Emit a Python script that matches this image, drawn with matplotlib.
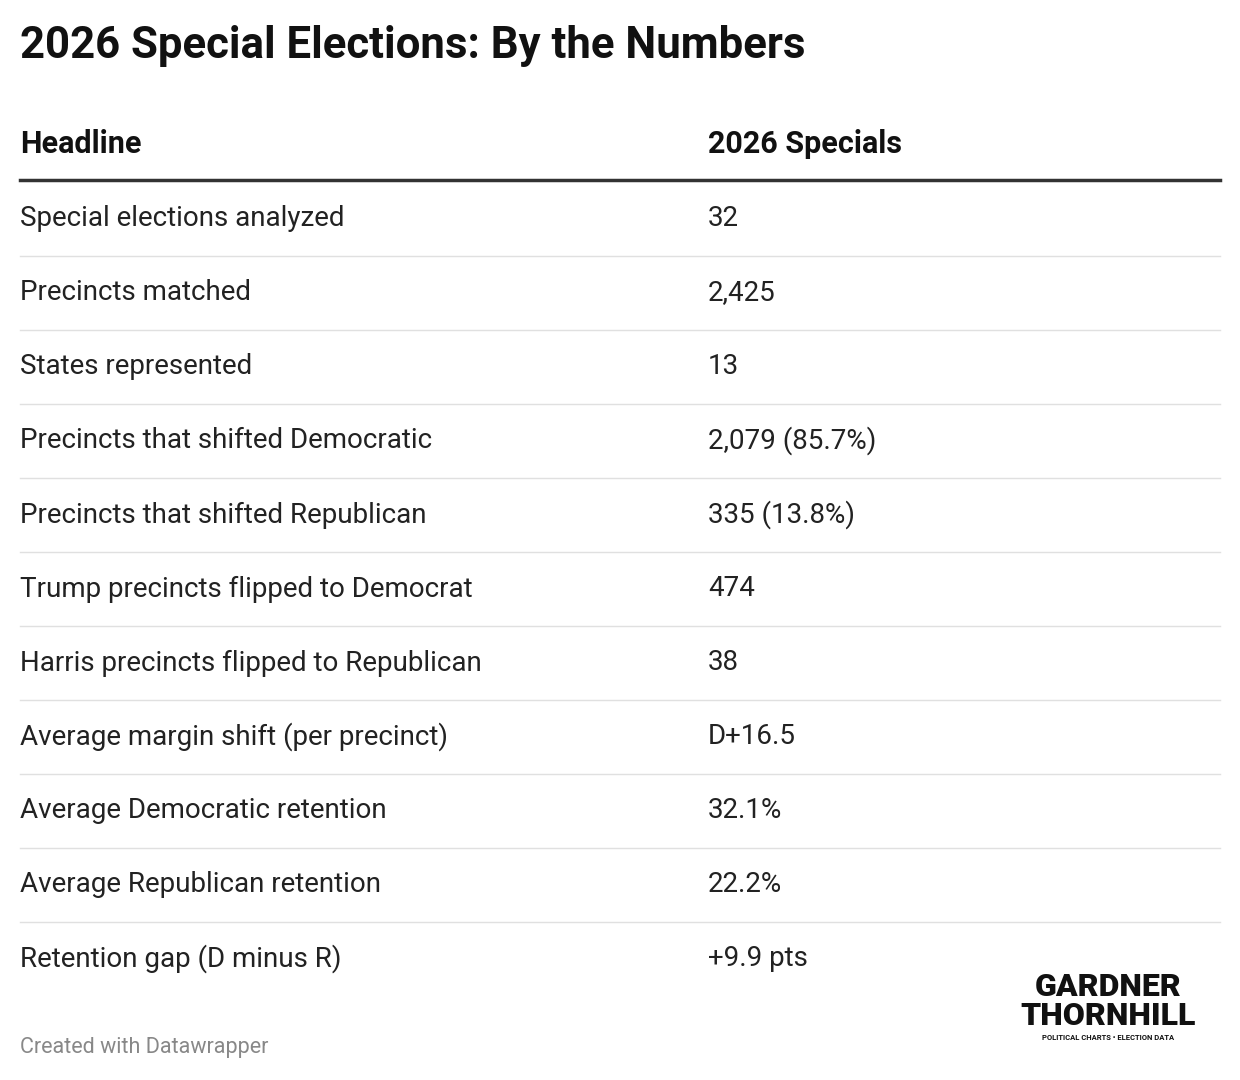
import matplotlib
matplotlib.use('Agg')
import matplotlib.pyplot as plt

TITLE = '2026 Special Elections: By the Numbers'
HEADERS = ['Headline', '2026 Specials']
LABELS = ['Special elections analyzed', 'Precincts matched', 'States represented',
          'Precincts that shifted Democratic', 'Precincts that shifted Republican',
          'Trump precincts flipped to Democrat', 'Harris precincts flipped to Republican',
          'Average margin shift (per precinct)', 'Average Democratic retention',
          'Average Republican retention', 'Retention gap (D minus R)']
VALUES = ['32', '2,425', '13', '2,079 (85.7%)', '335 (13.8%)', '474', '38',
          'D+16.5', '32.1%', '22.2%', '+9.9 pts']

W, H = 1240, 1080
fig = plt.figure(figsize=(W / 100, H / 100), dpi=100)
ax = fig.add_axes([0, 0, 1, 1])
ax.set_xlim(0, W)
ax.set_ylim(H, 0)
ax.axis('off')

FONT = 'Roboto'
ax.text(20, 46, TITLE, fontsize=31.5, fontweight='bold', family=FONT, va='center', color='#111')
ax.text(20, 144, HEADERS[0], fontsize=22, fontweight='bold', family=FONT, va='center', color='#111')
ax.text(708, 144, HEADERS[1], fontsize=22, fontweight='bold', family=FONT, va='center', color='#111')
ax.plot([20, 1220], [180, 180], color='#333', lw=2.5)

row_h = 74
for i, (lab, val) in enumerate(zip(LABELS, VALUES)):
    y = 219 + i * row_h
    ax.text(20, y, lab, fontsize=20, family=FONT, va='center', color='#222')
    ax.text(708, y, val, fontsize=20, family=FONT, va='center', color='#222')
    if i < len(LABELS) - 1:
        ax.plot([20, 1220], [y + 37, y + 37], color='#e0e0e0', lw=1)

ax.text(20, 1047, 'Created with Datawrapper', fontsize=15.5, family=FONT, va='center', color='#888')
ax.text(1108, 987, 'GARDNER', fontsize=23, fontweight='black', family=FONT, ha='center', va='center', color='#111')
ax.text(1108, 1016, 'THORNHILL', fontsize=23, fontweight='black', family=FONT, ha='center', va='center', color='#111')
ax.text(1108, 1037, 'POLITICAL CHARTS • ELECTION DATA', fontsize=5.5, fontweight='bold', family=FONT, ha='center', va='center', color='#111')

fig.savefig('out.png', dpi=100, facecolor='white')
